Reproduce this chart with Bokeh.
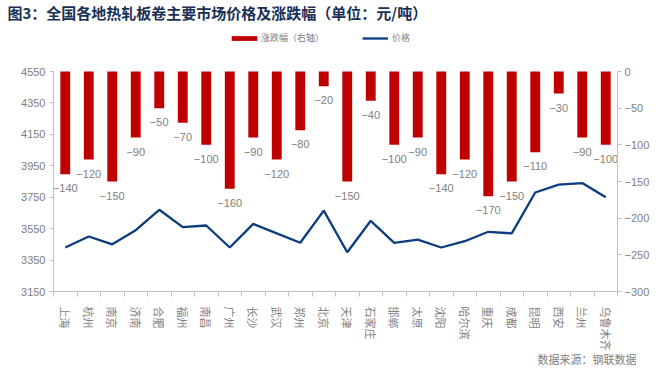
import math
from bokeh.plotting import figure
from bokeh.models import (Range1d, LinearAxis, FixedTicker, Title, Legend,
                          LegendItem, ColumnDataSource)
from bokeh.core.properties import value
from bokeh.embed import file_html
from bokeh.resources import INLINE

# ---------------- data ----------------
cities = ["上海", "杭州", "南京", "济南", "合肥", "福州", "南昌", "广州", "长沙", "武汉",
          "郑州", "北京", "天津", "石家庄", "邯郸", "太原", "沈阳", "哈尔滨", "重庆", "成都",
          "昆明", "西安", "兰州", "乌鲁木齐"]
changes = [-140, -120, -150, -90, -50, -70, -100, -160, -90, -120,
           -80, -20, -150, -40, -100, -90, -140, -120, -170, -150,
           -110, -30, -90, -100]
prices = [3430, 3500, 3450, 3540, 3670, 3560, 3570, 3430, 3580, 3520,
          3460, 3665, 3400, 3600, 3460, 3480, 3430, 3470, 3530, 3520,
          3780, 3830, 3840, 3750]
left_ticks = [3150, 3350, 3550, 3750, 3950, 4150, 4350, 4550]
right_ticks = [-300, -250, -200, -150, -100, -50, 0]

title_text = "图3：全国各地热轧板卷主要市场价格及涨跌幅（单位：元/吨）"
source_text = "数据来源：钢联数据"
bar_name = "涨跌幅（右轴）"
line_name = "价格"

# ---------------- styles / layout ----------------
BAR = "#C00000"
LINE = "#0B3C7E"
GREY = "#808080"
AXIS = "#BFBFBF"
CJK = "Noto Sans CJK SC"
NUM = "Liberation Sans"

FRAME_TOP = 24          # frame starts here; axes stop at the top tick
AXIS_TOP = 71           # pixel row of the top tick
AXIS_BOTTOM = 291       # pixel row of the bottom tick / x axis
span_px = AXIS_BOTTOM - AXIS_TOP
pad_px = AXIS_TOP - FRAME_TOP

def padded_top(lo, hi):
    return hi + (hi - lo) * pad_px / span_px

n = len(cities)
idx = list(range(n))
src = ColumnDataSource(dict(
    x=idx, city=cities, chg=changes, price=prices,
    lbl=[("−%d" % abs(v)) if v < 0 else str(v) for v in changes]))

p = figure(width=664, height=371, output_backend="svg", toolbar_location=None,
           title=None,
           x_range=Range1d(-0.5, n - 0.5),
           y_range=Range1d(left_ticks[0], padded_top(left_ticks[0], left_ticks[-1])),
           min_border_left=53, min_border_right=47,
           min_border_top=FRAME_TOP, min_border_bottom=371 - AXIS_BOTTOM)
p.extra_y_ranges = {"chg": Range1d(right_ticks[0], padded_top(right_ticks[0], right_ticks[-1]))}
p.outline_line_color = None
p.grid.visible = False
p.background_fill_color = "white"
p.border_fill_color = "white"

bars = p.vbar(x="x", top=0, bottom="chg", width=0.42, source=src,
              y_range_name="chg", fill_color=BAR, line_color=None)
line = p.line(x="x", y="price", source=src, line_color=LINE, line_width=2.3)

p.text(x="x", y="chg", text="lbl", source=src, y_range_name="chg",
       text_align="center", text_baseline="middle", y_offset=14,
       text_font=value(NUM), text_font_size="11px", text_color=GREY)

# x axis
xa = p.xaxis[0]
xa.ticker = FixedTicker(ticks=idx, minor_ticks=[i - 0.5 for i in range(n + 1)])
xa.major_label_overrides = {i: c for i, c in zip(idx, cities)}
xa.major_label_orientation = -math.pi / 2
xa.major_tick_out = 0
xa.major_tick_in = 0
xa.minor_tick_out = 5
xa.minor_tick_in = 0
xa.minor_tick_line_color = AXIS
xa.axis_line_color = AXIS
xa.axis_label_standoff = 0
xa.major_label_standoff = 10
xa.major_label_text_font = CJK
xa.major_label_text_font_size = "11px"
xa.major_label_text_color = GREY

# left axis
ya = p.yaxis[0]
ya.ticker = FixedTicker(ticks=left_ticks)
ya.bounds = (left_ticks[0], left_ticks[-1])
ya.major_tick_out = 4
ya.major_tick_in = 0
ya.minor_tick_out = 0
ya.minor_tick_in = 0
ya.axis_line_color = AXIS
ya.major_tick_line_color = AXIS
ya.major_label_standoff = 4
ya.major_label_text_font = NUM
ya.major_label_text_font_size = "11px"
ya.major_label_text_color = GREY

# right axis
ra = LinearAxis(y_range_name="chg", ticker=FixedTicker(ticks=right_ticks),
                bounds=(right_ticks[0], right_ticks[-1]))
ra.major_label_overrides = {v: (("−%d" % abs(v)) if v < 0 else str(v)) for v in right_ticks}
ra.major_tick_out = 4
ra.major_tick_in = 0
ra.minor_tick_out = 0
ra.minor_tick_in = 0
ra.axis_line_color = AXIS
ra.major_tick_line_color = AXIS
ra.major_label_standoff = 3
ra.major_label_text_font = NUM
ra.major_label_text_font_size = "11px"
ra.major_label_text_color = GREY
p.add_layout(ra, "right")

# legends (inside the padded top of the frame)
def mk_legend(item, gw, standoff, x):
    lg = Legend(items=[item], location=(x, 247), orientation="horizontal",
                glyph_width=gw, glyph_height=6, label_height=10, label_width=10,
                label_standoff=standoff, spacing=0,
                padding=0, margin=0, border_line_color=None,
                background_fill_alpha=0, label_text_font=CJK,
                label_text_font_size="9px", label_text_color=GREY)
    p.add_layout(lg, "center")

mk_legend(LegendItem(label=bar_name, renderers=[bars]), 32, 1, 175)
mk_legend(LegendItem(label=line_name, renderers=[line]), 26, 4, 309)

# title
p.add_layout(Title(text=title_text, align="left", offset=-46, standoff=0,
                   vertical_align="top",
                   text_font=CJK, text_font_size="15px", text_font_style="bold",
                   text_color="#1A2F55"), "above")

# source note
p.add_layout(Title(text=source_text, align="right", offset=-19, standoff=-10,
                   vertical_align="bottom",
                   text_font=CJK, text_font_size="11px", text_font_style="normal",
                   text_color=GREY), "below")

open("out.html", "w").write(file_html(p, INLINE))
